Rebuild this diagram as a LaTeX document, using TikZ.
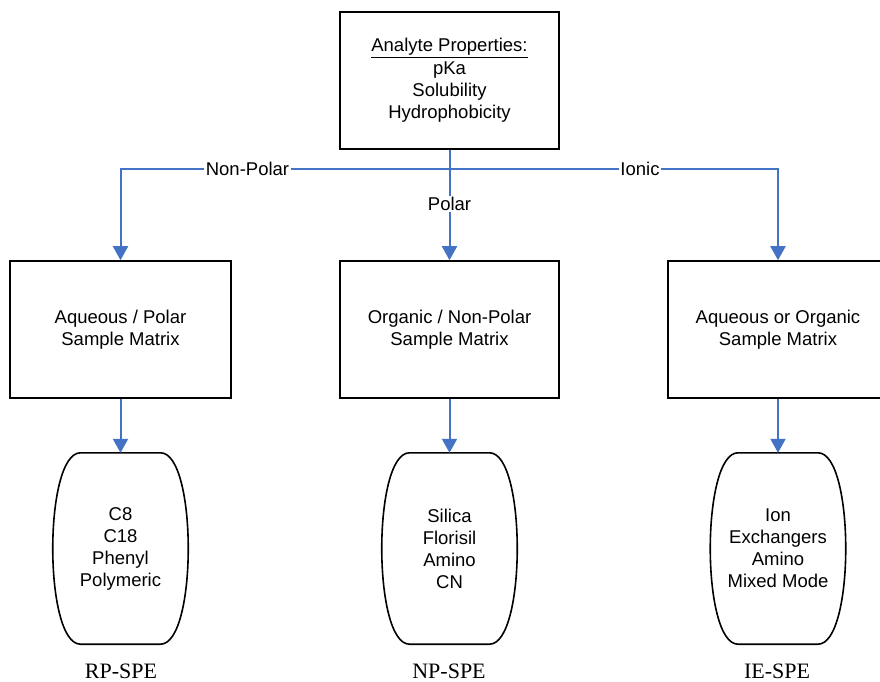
\documentclass[tikz,border=0pt]{standalone}
\usepackage{fontspec}
\setmainfont{Liberation Sans}
\newfontfamily\serifRM{Liberation Serif}
\usetikzlibrary{arrows.meta,calc}
\definecolor{conblue}{RGB}{68,114,196}
\begin{document}
\begin{tikzpicture}[x=1pt,y=-1pt,
  box/.style={draw, line width=1.6pt, minimum width=219pt, minimum height=137pt, inner sep=0pt, align=center, font=\fontsize{18.5}{22}\selectfont},
  capnode/.style={minimum width=136pt, minimum height=191pt, inner sep=0pt, align=center, font=\fontsize{18.5}{22}\selectfont},
  capline/.style={draw, line width=1.6pt},
  conn/.style={draw=conblue, line width=2pt},
  arr/.style={conn, -{Triangle[width=15pt,length=14pt]}},
  lab/.style={fill=white, inner sep=1.5pt, font=\fontsize{18.5}{22}\selectfont},
  spe/.style={font=\serifRM\fontsize{22}{24}\selectfont}
]
\useasboundingbox (0,0) rectangle (880,682);
\fill[white] (0,0) rectangle (880,682);

\node[box] (top) at (449.5,80.5) {\underline{Analyte Properties:}\\[1pt]pKa\\Solubility\\Hydrophobicity};

\node[box, minimum width=221pt] (m1) at (120.5,329.5) {Aqueous / Polar\\Sample Matrix};
\node[box] (m2) at (449.5,329.5) {Organic / Non-Polar\\Sample Matrix};
\node[box, minimum width=220pt] (m3) at (778,329.5) {Aqueous or Organic\\Sample Matrix};

\node[capnode] (c1) at (120.5,548.5) {C8\\C18\\Phenyl\\Polymeric};
\node[capnode] (c2) at (449.5,548.5) {Silica\\Florisil\\Amino\\CN};
\node[capnode] (c3) at (778,548.5) {Ion\\Exchangers\\Amino\\Mixed Mode};

\foreach \c in {c1,c2,c3}{
  \draw[capline] ($(\c.north)+(-40,0)$) -- ($(\c.north)+(40,0)$)
    .. controls ($(\c.north)+(77,0)$) and ($(\c.south)+(77,0)$) .. ($(\c.south)+(40,0)$)
    -- ($(\c.south)+(-40,0)$)
    .. controls ($(\c.south)+(-77,0)$) and ($(\c.north)+(-77,0)$) .. cycle;
}

\node[spe] (l1) at (121,671) {RP-SPE};
\node[spe] (l2) at (449,671) {NP-SPE};
\node[spe] (l3) at (777,671) {IE-SPE};

\coordinate (hub) at (449.5,169);

\draw[arr] (top.south) -- node[lab, pos=0.49] {Polar} (m2.north);
\draw[arr] (hub) -| node[lab, pos=0.307] {Non-Polar} (m1.north);
\draw[arr] (hub) -| node[lab, pos=0.29] {Ionic} (m3.north);

\draw[arr] (m1.south) -- (c1.north);
\draw[arr] (m2.south) -- (c2.north);
\draw[arr] (m3.south) -- (c3.north);
\end{tikzpicture}
\end{document}
